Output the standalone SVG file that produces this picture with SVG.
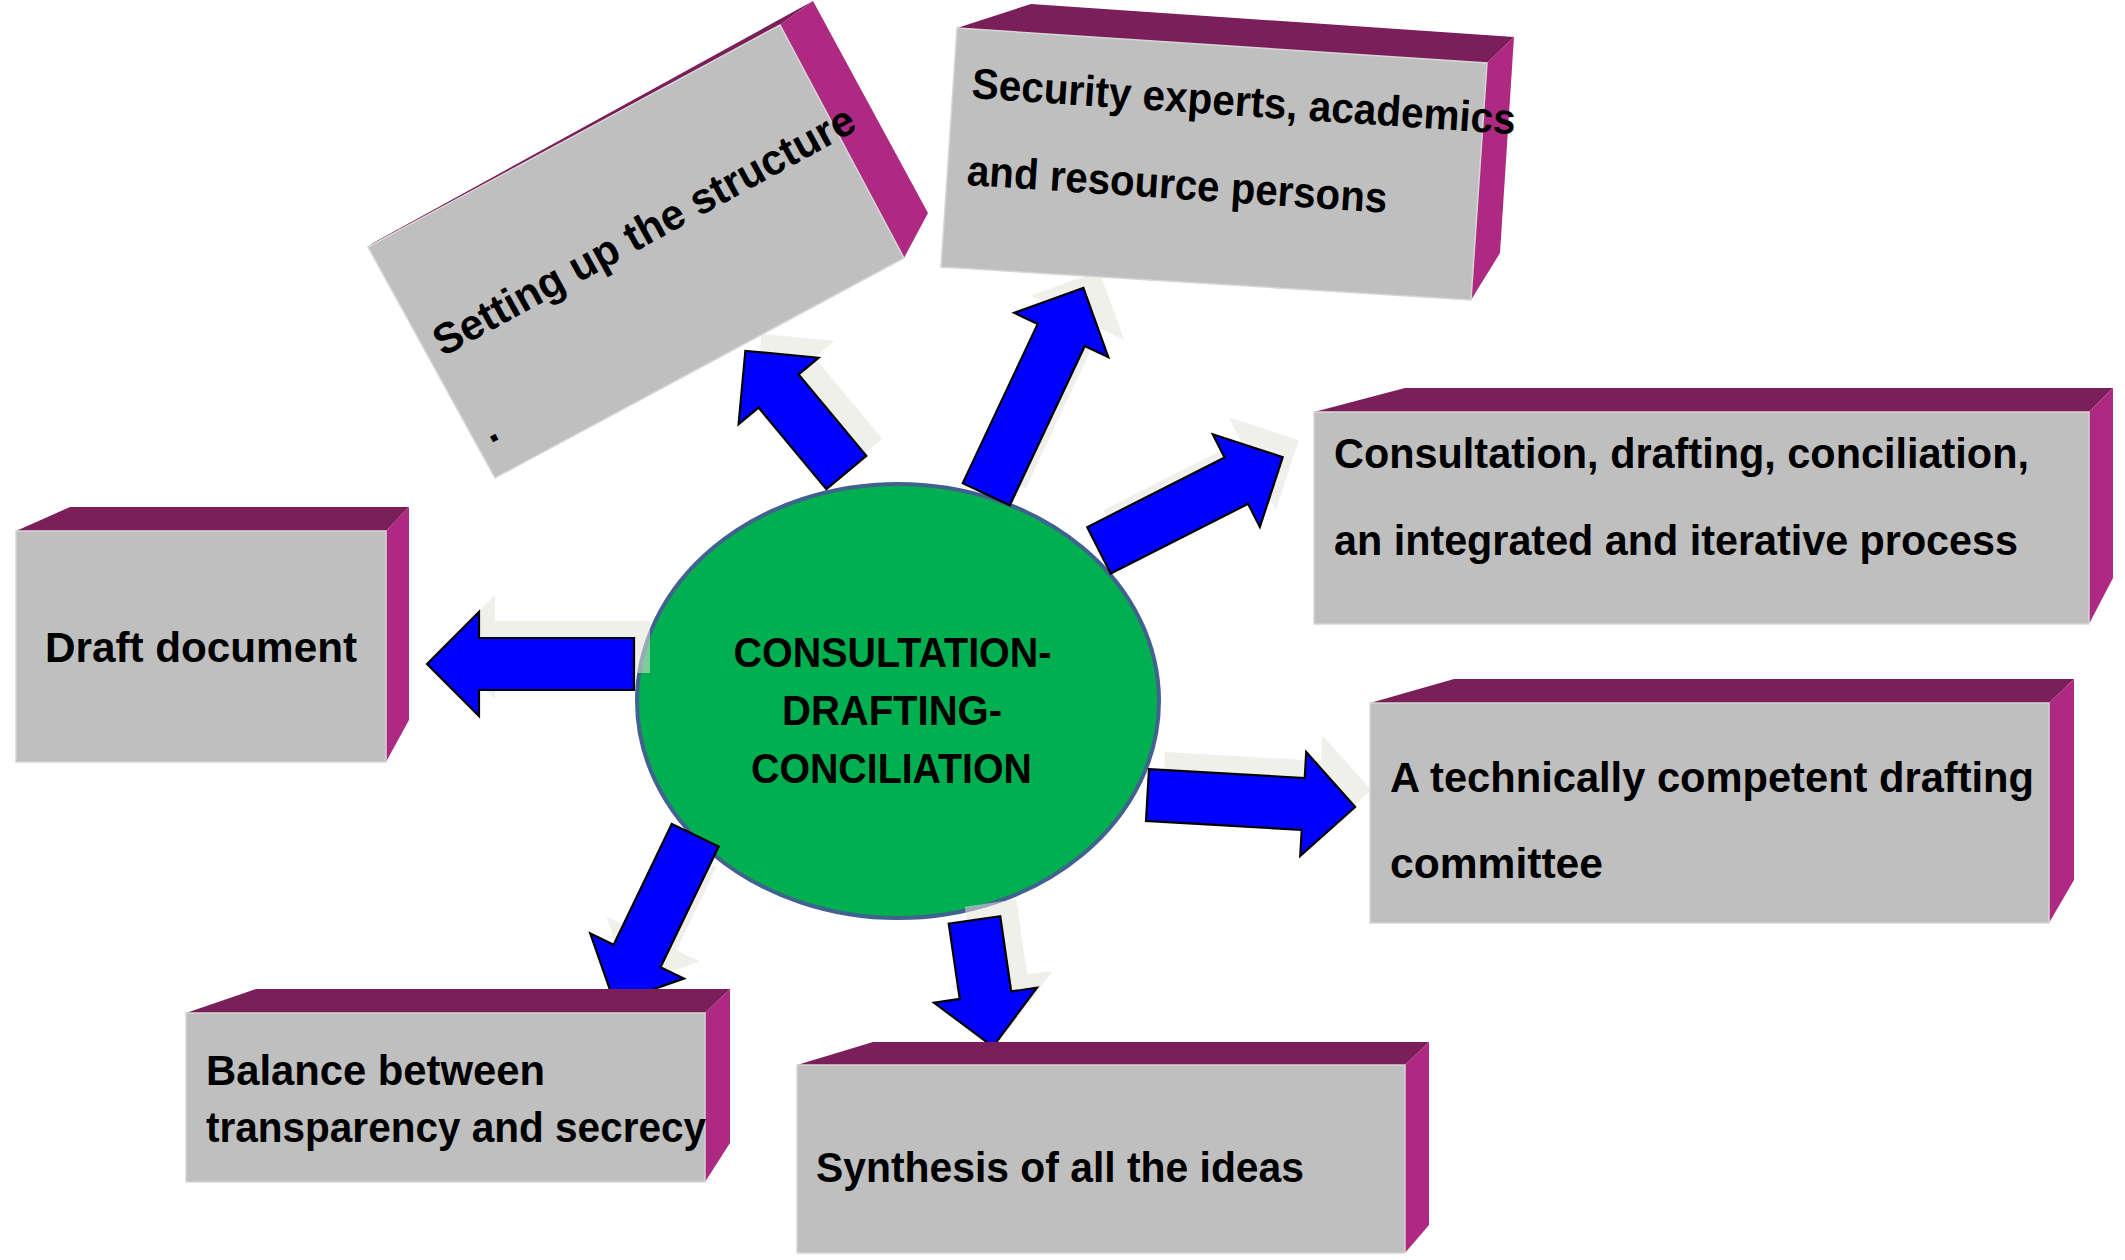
<svg xmlns="http://www.w3.org/2000/svg" width="2125" height="1260" viewBox="0 0 2125 1260">
<style>
.bg{fill:#FFFFFF}
.front{fill:#BFBFBF;stroke:#D6D6D6;stroke-width:1.5}
.top{fill:#7B1F5B}
.side{fill:#AE2A82}
.lbl{font-family:"Liberation Sans",Arial,sans-serif;font-weight:bold;font-size:43px;fill:#000000}
.arrow{fill:#0000FF;stroke:#000000;stroke-width:2.2;stroke-linejoin:miter}
.shadow{fill:#E4E4D8;fill-opacity:0.55}
.hub{fill:#00B050;stroke:#41618F;stroke-width:4}
</style>
<rect class="bg" x="0" y="0" width="2125" height="1260"/>

<g id="hub">
<ellipse class="hub" cx="898" cy="701" rx="261" ry="217"/>
<text class="lbl" x="733.5" y="667" textLength="318" lengthAdjust="spacingAndGlyphs">CONSULTATION-</text>
<text class="lbl" x="782" y="725" textLength="220" lengthAdjust="spacingAndGlyphs">DRAFTING-</text>
<text class="lbl" x="751" y="783" textLength="281" lengthAdjust="spacingAndGlyphs">CONCILIATION</text>
</g>

<g id="connectors">
<g id="shadows">
<path class="shadow" transform="translate(650,647) rotate(180)" d="M0,-26H155V-52L207,0L155,52V26H0Z"/>
<path class="shadow" transform="translate(862.3,455.5) rotate(-129.7)" d="M0,-26H106V-52L158,0L106,52V26H0Z"/>
<path class="shadow" transform="translate(1002.3,477.2) rotate(-64.8)" d="M0,-26H176V-52L228,0L176,52V26H0Z"/>
<path class="shadow" transform="translate(1115,533.3) rotate(-26.9)" d="M0,-26H154V-52L206,0L154,52V26H0Z"/>
<path class="shadow" transform="translate(1163.5,778) rotate(3.3)" d="M0,-26H156V-52L208,0L156,52V26H0Z"/>
<path class="shadow" transform="translate(990.5,903) rotate(81.7)" d="M0,-26H76V-52L128,0L76,52V26H0Z"/>
<path class="shadow" transform="translate(711.2,818.2) rotate(115.7)" d="M42,-26H134V-52L186,0L134,52V26H42Z"/>
</g>
<path id="arrow-draft" class="arrow" transform="translate(634,664) rotate(180)" d="M0,-26H155V-52L207,0L155,52V26H0Z"/>
<path id="arrow-setting" class="arrow" transform="translate(846.3,472.5) rotate(-129.7)" d="M0,-26H106V-52L158,0L106,52V26H0Z"/>
<path id="arrow-security" class="arrow" transform="translate(986.3,494.2) rotate(-64.8)" d="M0,-26H176V-52L228,0L176,52V26H0Z"/>
<path id="arrow-consultation" class="arrow" transform="translate(1099,550.3) rotate(-26.9)" d="M0,-26H154V-52L206,0L154,52V26H0Z"/>
<path id="arrow-technical" class="arrow" transform="translate(1147.5,795) rotate(3.3)" d="M0,-26H156V-52L208,0L156,52V26H0Z"/>
<path id="arrow-synthesis" class="arrow" transform="translate(974.5,920) rotate(81.7)" d="M0,-26H76V-52L128,0L76,52V26H0Z"/>
<path id="arrow-balance" class="arrow" transform="translate(695.2,835.2) rotate(115.7)" d="M0,-26H134V-52L186,0L134,52V26H0Z"/>
</g>

<g id="node-draft">
<polygon class="top" points="16,531 70,507 409,507 386,531"/>
<polygon class="side" points="386,531 409,507 409,720 386,762"/>
<rect class="front" x="16" y="531" width="370" height="231"/>
<text class="lbl" x="45" y="662" textLength="312" lengthAdjust="spacingAndGlyphs">Draft document</text>
</g>

<g id="node-setting">
<polygon class="top" points="368,247 373,243 813,1 780,25"/>
<polygon class="side" points="780,25 813,1 928,213 904,258"/>
<polygon class="front" points="368,247 780,25 904,258 495,478"/>
<g transform="translate(443,357) rotate(-28.7)">
<text class="lbl" x="0" y="0" textLength="474" lengthAdjust="spacingAndGlyphs">Setting up the structure</text>
<text class="lbl" x="0" y="99">.</text>
</g>
</g>

<g id="node-security">
<polygon class="top" points="957,28 1031,4 1514,37 1487,63"/>
<polygon class="side" points="1487,63 1514,37 1500,253 1471,300"/>
<polygon class="front" points="957,28 1487,63 1471,300 941,267"/>
<g transform="translate(971,98) rotate(3.8)">
<text class="lbl" x="0" y="0" textLength="545" lengthAdjust="spacingAndGlyphs">Security experts, academics</text>
<text class="lbl" x="1" y="87" textLength="421" lengthAdjust="spacingAndGlyphs">and resource persons</text>
</g>
</g>

<g id="node-consultation">
<polygon class="top" points="1314,412 1405,388 2113,388 2089,412"/>
<polygon class="side" points="2089,412 2113,388 2113,578 2089,624"/>
<rect class="front" x="1314" y="412" width="775" height="212"/>
<text class="lbl" x="1334" y="468" textLength="695" lengthAdjust="spacingAndGlyphs">Consultation, drafting, conciliation,</text>
<text class="lbl" x="1334" y="555" textLength="684" lengthAdjust="spacingAndGlyphs">an integrated and iterative process</text>
</g>

<g id="node-technical">
<polygon class="top" points="1370,703 1454,679 2074,679 2049,703"/>
<polygon class="side" points="2049,703 2074,679 2074,880 2049,923"/>
<rect class="front" x="1370" y="703" width="679" height="220"/>
<text class="lbl" x="1390" y="792" textLength="644" lengthAdjust="spacingAndGlyphs">A technically competent drafting</text>
<text class="lbl" x="1390" y="878" textLength="213" lengthAdjust="spacingAndGlyphs">committee</text>
</g>

<g id="node-balance">
<polygon class="top" points="186,1013 256,989 730,989 705,1013"/>
<polygon class="side" points="705,1013 730,989 730,1143 705,1182"/>
<rect class="front" x="186" y="1013" width="519" height="169"/>
<text class="lbl" x="206" y="1085" textLength="339" lengthAdjust="spacingAndGlyphs">Balance between</text>
<text class="lbl" x="206" y="1142" textLength="500" lengthAdjust="spacingAndGlyphs">transparency and secrecy</text>
</g>

<g id="node-synthesis">
<polygon class="top" points="797,1065 873,1042 1429,1042 1405,1065"/>
<polygon class="side" points="1405,1065 1429,1042 1429,1225 1405,1253"/>
<rect class="front" x="797" y="1065" width="608" height="188"/>
<text class="lbl" x="816" y="1182" textLength="488" lengthAdjust="spacingAndGlyphs">Synthesis of all the ideas</text>
</g>
</svg>
